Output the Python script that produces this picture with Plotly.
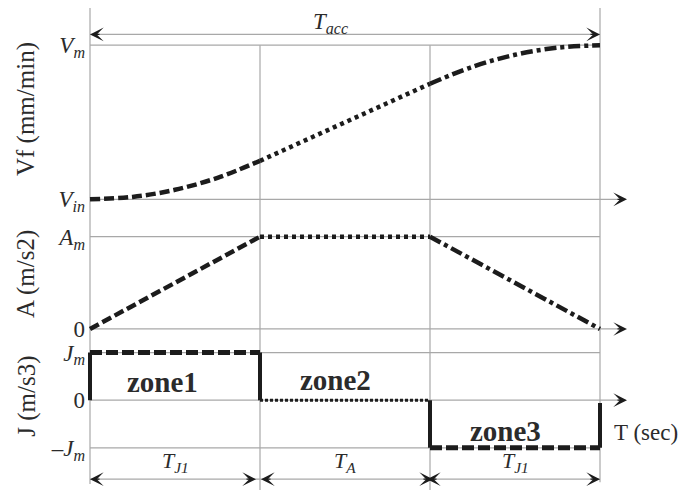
import plotly.graph_objects as go

# ---------------- data (time in units of one zone) ----------------
zone_edges = [0, 1, 2, 3]
zone_names = ["zone1", "zone2", "zone3"]
span_labels = ["<i>T<sub>J1</sub></i>", "<i>T<sub>A</sub></i>", "<i>T<sub>J1</sub></i>"]

# velocity (normalised: Vin = 0, Vm = 1)
t_v1 = [0.0, 0.25, 0.5, 0.75, 1.0]
v_z1 = [0.0, 0.016, 0.062, 0.14, 0.25]
t_v2 = [1.0, 2.0]
v_z2 = [0.25, 0.75]
t_v3 = [2.0, 2.25, 2.5, 2.75, 3.0]
v_z3 = [0.75, 0.86, 0.938, 0.984, 1.0]

# acceleration (0 .. Am = 1)
t_a1 = [0.0, 1.0]
a_z1 = [0.0, 1.0]
t_a2 = [1.0, 2.0]
a_z2 = [1.0, 1.0]
t_a3 = [2.0, 3.0]
a_z3 = [1.0, 0.0]

# jerk (-Jm = -1, 0, Jm = 1)
t_j1 = [0.0, 1.0]
j_z1 = [1.0, 1.0]
t_j2 = [1.0, 2.0]
j_z2 = [0.0, 0.0]
t_j3 = [2.0, 3.0]
j_z3 = [-1.0, -1.0]
jump_t = [0.0, 1.0, 2.0, 3.0]
jump_from = [0.0, 1.0, 0.0, -1.0]
jump_to = [1.0, 0.0, -1.0, -0.06]

v_ticks = [0, 1]
v_ticktext = ["<i>V<sub>in</sub></i>", "<i>V<sub>m</sub></i>"]
a_ticks = [0, 1]
a_ticktext = ["0", "<i>A<sub>m</sub></i>"]
j_ticks = [-1, 0, 1]
j_ticktext = ["\u2013<i>J<sub>m</sub></i>", "0", "<i>J<sub>m</sub></i>"]

# ---------------- layout geometry ----------------
W, H = 688, 496
X0, XS = 90, 170          # pixel of t=0, pixels per unit time
XMIN = -X0 / XS
XMAX = (W - X0) / XS


def tx(px):
    return (px - X0) / XS


def py(px):
    return 1 - px / H


def ydomain(px_a, val_a, px_b, val_b, rlo, rhi):
    scale = (px_a - px_b) / (val_b - val_a)
    px_lo = px_a + (val_a - rlo) * scale
    px_hi = px_a - (rhi - val_a) * scale
    return [1 - px_lo / H, 1 - px_hi / H]


V_RANGE = [-0.08, 1.08]
A_RANGE = [-0.1, 1.1]
J_RANGE = [-1.2, 1.2]
V_DOM = ydomain(200, 0, 43, 1, *V_RANGE)
A_DOM = ydomain(332, 0, 238, 1, *A_RANGE)
J_DOM = ydomain(453, -1, 356, 1, *J_RANGE)

INK = "#1c1c1c"
GRID = "#a8a8a8"
TEXT = "#2b2b2b"
SERIF = "Liberation Serif, Times New Roman, serif"

DASH = "10px,4px"
DOT = "4px,4px"
DASHDOT = "12px,4px,4px,4px"

fig = go.Figure()


def add_line(x, y, yaxis, dash, width=4.5, shape="linear", color=INK):
    fig.add_trace(go.Scatter(
        x=x, y=y, yaxis=yaxis, mode="lines",
        line=dict(color=color, width=width, dash=dash, shape=shape),
        hoverinfo="skip", showlegend=False))


# velocity
add_line(t_v1, v_z1, "y", DASH, shape="spline")
add_line(t_v2, v_z2, "y", DOT)
add_line(t_v3, v_z3, "y", DASHDOT, shape="spline")
# acceleration
add_line(t_a1, a_z1, "y2", DASH)
add_line(t_a2, a_z2, "y2", DOT)
add_line(t_a3, a_z3, "y2", DASHDOT)
# jerk
add_line(t_j1, j_z1, "y3", "12px,4px", width=5)
add_line(t_j2, j_z2, "y3", "3px,2px", width=3)
add_line(t_j3, j_z3, "y3", "12px,4px", width=5)
for t, a, b in zip(jump_t, jump_from, jump_to):
    add_line([t, t], [a, b], "y3", "solid", width=4)

shapes = []


def gline(x0, x1, y0, y1, yref):
    shapes.append(dict(type="line", xref="x", yref=yref, x0=x0, x1=x1,
                       y0=y0, y1=y1, line=dict(color=GRID, width=1.2),
                       layer="below"))


# vertical grid lines
gline(zone_edges[0], zone_edges[0], py(5), py(490), "paper")
gline(zone_edges[1], zone_edges[1], py(43), py(496), "paper")
gline(zone_edges[2], zone_edges[2], py(43), py(496), "paper")
gline(zone_edges[3], zone_edges[3], py(5), py(488), "paper")

AX_END = tx(627)
# horizontal lines
gline(0, 3, 1, 1, "y")
gline(0, AX_END - 0.02, 0, 0, "y")
gline(0, 3, 1, 1, "y2")
gline(0, AX_END - 0.02, 0, 0, "y2")
gline(0, 3, 1, 1, "y3")
gline(0, AX_END - 0.02, 0, 0, "y3")
gline(0, 3, -1, -1, "y3")
# dimension lines
gline(0, 3, py(32), py(32), "paper")
gline(0, 3, py(485), py(485), "paper")

annotations = []


def head(x, y, yref, direction):
    annotations.append(dict(
        x=x, y=y, xref="x", yref=yref, text="", showarrow=True,
        ax=-11 * direction, ay=0, arrowhead=3, arrowsize=1.9,
        arrowwidth=1.2, arrowcolor=INK, standoff=0))


head(0, py(32), "paper", -1)
head(3, py(32), "paper", 1)
head(AX_END, 0, "y", 1)
head(AX_END, 0, "y2", 1)
head(AX_END, 0, "y3", 1)
head(0, py(485), "paper", -1)
head(tx(256), py(485), "paper", 1)
head(tx(261), py(485), "paper", -1)
head(tx(433), py(485), "paper", 1)
head(tx(427), py(485), "paper", -1)
head(3, py(485), "paper", 1)


def label(x, y, text, size, xref="x", yref="paper", bold=False, angle=0,
          xanchor="center"):
    annotations.append(dict(
        x=x, y=y, xref=xref, yref=yref, text=text, showarrow=False,
        textangle=angle, xanchor=xanchor, yanchor="middle",
        font=dict(family=SERIF, size=size, color=TEXT,
                  weight="bold" if bold else "normal")))


label(tx(330), py(20), "<i>T<sub>acc</sub></i>", 23)
for i, txt in enumerate(span_labels):
    label((zone_edges[i] + zone_edges[i + 1]) / 2, py(467), txt, 22)

label(tx(162), py(386), zone_names[0], 29, bold=True)
label(tx(335), py(384), zone_names[1], 29, bold=True)
label(tx(505), py(436), zone_names[2], 29, bold=True)
label(tx(612), py(437), "T (sec)", 23, xanchor="left")

label(26 / W, py(108), "Vf (mm/min)", 25, xref="paper", angle=-90)
label(26 / W, py(276), "A (m/s2)", 25, xref="paper", angle=-90)
label(27 / W, py(401), "J (m/s3)", 25, xref="paper", angle=-90)

yax_common = dict(anchor="free", position=X0 / W, showgrid=False,
                  zeroline=False, showline=False, ticks="",
                  ticklabelstandoff=5,
                  tickfont=dict(family=SERIF, size=23, color=TEXT),
                  fixedrange=True)

fig.update_layout(
    width=W, height=H,
    margin=dict(l=0, r=0, t=0, b=0),
    paper_bgcolor="white", plot_bgcolor="white",
    showlegend=False,
    xaxis=dict(range=[XMIN, XMAX], domain=[0, 1], visible=False,
               fixedrange=True),
    yaxis=dict(domain=V_DOM, range=V_RANGE, tickvals=v_ticks,
               ticktext=v_ticktext, **yax_common),
    yaxis2=dict(domain=A_DOM, range=A_RANGE, tickvals=a_ticks,
                ticktext=a_ticktext, **yax_common),
    yaxis3=dict(domain=J_DOM, range=J_RANGE, tickvals=j_ticks,
                ticktext=j_ticktext, **yax_common),
    shapes=shapes,
    annotations=annotations,
)

fig.write_html("out.html", config={"displayModeBar": False},
               post_script="document.body.style.margin='0';")
